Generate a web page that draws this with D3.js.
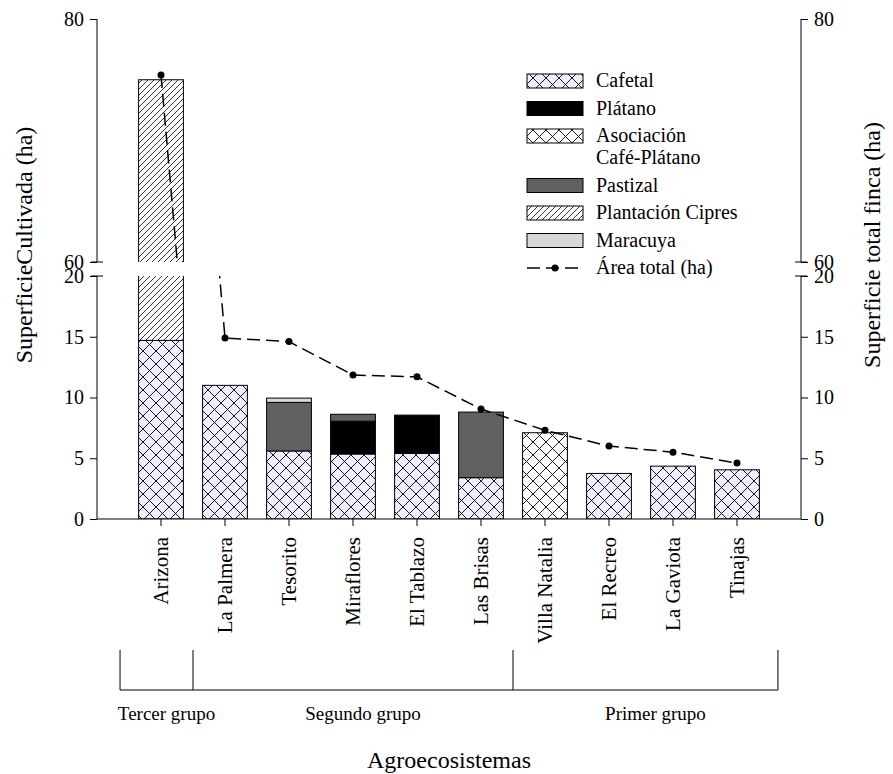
<!DOCTYPE html>
<html>
<head>
<meta charset="utf-8">
<script src="https://cdn.jsdelivr.net/npm/d3@7"></script>
<style>
  body { margin: 0; background: white; }
  text { font-family: "Liberation Serif", "Times New Roman", serif; fill: black; }
</style>
</head>
<body>
<div id="container"></div>
<script>
// data
var categories = ["Arizona", "La Palmera", "Tesorito", "Miraflores", "El Tablazo",
                  "Las Brisas", "Villa Natalia", "El Recreo", "La Gaviota", "Tinajas"];
var cafetal    = [14.7, 11.0, 5.6, 5.35, 5.4, 3.4, 0, 3.75, 4.35, 4.05];
var asociacion = [0, 0, 0, 0, 0, 0, 7.1, 0, 0, 0];
var platano    = [0, 0, 0, 2.7, 3.15, 0, 0, 0, 0, 0];
var pastizal   = [0, 0, 4.0, 0.57, 0, 5.4, 0, 0, 0, 0];
var cipres     = [60.3, 0, 0, 0, 0, 0, 0, 0, 0, 0];
var maracuya   = [0, 0, 0.35, 0, 0, 0, 0, 0, 0, 0];
var areaTotal  = [75.4, 14.9, 14.6, 11.85, 11.7, 9.05, 7.3, 6.0, 5.5, 4.6];

var seriesKeys  = ["cafetal", "asociacion", "platano", "pastizal", "cipres", "maracuya"];
var legendNames = ["Cafetal", "Plátano", "Asociación\nCafé-Plátano", "Pastizal", "Plantación Cipres", "Maracuya"];
var legendKeys  = ["cafetal", "platano", "asociacion", "pastizal", "cipres", "maracuya"];
var lowTicks  = [0, 5, 10, 15, 20];
var highTicks = [60, 80];
var groups = [
  {name: "Tercer grupo",  from: 0, to: 0},
  {name: "Segundo grupo", from: 1, to: 5},
  {name: "Primer grupo",  from: 6, to: 9}
];

var width = 893, height = 774;
var left = 97, right = 801;

var svg = d3.select("#container").append("svg")
    .attr("width", width).attr("height", height);

var defs = svg.append("defs");

function crossPattern(id, bg, s) {
  var p = defs.append("pattern").attr("id", id)
      .attr("patternUnits", "userSpaceOnUse")
      .attr("width", s).attr("height", s);
  p.append("rect").attr("width", s).attr("height", s).attr("fill", bg);
  p.append("path").attr("d", "M0,0L" + s + "," + s + "M0," + s + "L" + s + ",0")
   .attr("stroke", "black").attr("stroke-width", 0.9).attr("fill", "none");
}
crossPattern("pCafetal", "#eeeeff", 13);
crossPattern("pAsoc", "white", 13);

var hp = defs.append("pattern").attr("id", "pCipres")
    .attr("patternUnits", "userSpaceOnUse")
    .attr("width", 6).attr("height", 6);
hp.append("rect").attr("width", 6).attr("height", 6).attr("fill", "white");
hp.append("path").attr("d", "M-1,7L7,-1M-4,4L4,-4M2,10L10,2")
  .attr("stroke", "black").attr("stroke-width", 0.8);

var fills = {
  cafetal: "url(#pCafetal)",
  asociacion: "url(#pAsoc)",
  platano: "black",
  pastizal: "#606060",
  cipres: "url(#pCipres)",
  maracuya: "#d8d8d8"
};

var x = d3.scalePoint().domain(categories).range([left, right]).padding(1);
var step = x.step();
var barW = step * 0.7;

var yLow  = d3.scaleLinear().domain([0, 20]).range([519, 276]);
var yHigh = d3.scaleLinear().domain([60, 80]).range([262, 19]);

var table = categories.map(function(c, i) {
  return {name: c, cafetal: cafetal[i], asociacion: asociacion[i], platano: platano[i],
          pastizal: pastizal[i], cipres: cipres[i], maracuya: maracuya[i], total: areaTotal[i]};
});
var stacked = d3.stack().keys(seriesKeys)(table);

var panels = [
  {id: "clipLow", y: yLow},
  {id: "clipHigh", y: yHigh}
];

panels.forEach(function(p) {
  var r = p.y.range();
  defs.append("clipPath").attr("id", p.id).append("rect")
      .attr("x", left).attr("y", r[1]).attr("width", right - left).attr("height", r[0] - r[1]);

  var g = svg.append("g").attr("clip-path", "url(#" + p.id + ")");

  stacked.forEach(function(layer) {
    g.selectAll(null)
      .data(layer.filter(function(d) { return d[1] - d[0] > 0; }))
      .enter().append("rect")
      .attr("x", function(d) { return x(d.data.name) - barW / 2; })
      .attr("width", barW)
      .attr("y", function(d) { return p.y(d[1]); })
      .attr("height", function(d) { return p.y(d[0]) - p.y(d[1]); })
      .attr("fill", fills[layer.key])
      .attr("stroke", "black")
      .attr("stroke-width", 1);
  });

  var line = d3.line()
      .x(function(d) { return x(d.name); })
      .y(function(d) { return p.y(d.total); });

  g.append("path").datum(table)
    .attr("d", line)
    .attr("fill", "none")
    .attr("stroke", "black")
    .attr("stroke-width", 1.5)
    .attr("stroke-dasharray", "13,6");

  g.selectAll(null).data(table).enter().append("circle")
    .attr("cx", function(d) { return x(d.name); })
    .attr("cy", function(d) { return p.y(d.total); })
    .attr("r", 3.5)
    .attr("fill", "black");
});

// axes
function yAxes(scale, ticks) {
  svg.append("g").attr("transform", "translate(" + left + ",0)")
    .call(d3.axisLeft(scale).tickValues(ticks).tickSize(7).tickPadding(6));
  svg.append("g").attr("transform", "translate(" + right + ",0)")
    .call(d3.axisRight(scale).tickValues(ticks).tickSize(7).tickPadding(6));
}
yAxes(yLow, lowTicks);
yAxes(yHigh, highTicks);

svg.selectAll(".domain").remove();
svg.selectAll(".tick text").style("font-size", "20px")
   .style("font-family", "'Liberation Serif', serif");

// axis lines and break marks
[left, right].forEach(function(ax) {
  [yLow, yHigh].forEach(function(s) {
    var r = s.range();
    svg.append("line").attr("x1", ax).attr("x2", ax).attr("y1", r[0]).attr("y2", r[1])
       .attr("stroke", "black");
  });
  [yHigh(60), yLow(20)].forEach(function(yy) {
    svg.append("line").attr("x1", ax - 6).attr("x2", ax + 6).attr("y1", yy).attr("y2", yy)
       .attr("stroke", "black");
  });
});

// x axis
var xg = svg.append("g").attr("transform", "translate(0," + yLow(0) + ")");
xg.append("line").attr("x1", left).attr("x2", right).attr("stroke", "black");
xg.selectAll(null).data(categories).enter().append("line")
  .attr("x1", function(d) { return x(d); }).attr("x2", function(d) { return x(d); })
  .attr("y1", 0).attr("y2", 7).attr("stroke", "black");
xg.selectAll(null).data(categories).enter().append("text")
  .attr("transform", function(d) { return "translate(" + (x(d) + 7) + ",18) rotate(-90)"; })
  .attr("text-anchor", "end")
  .style("font-size", "21px")
  .text(function(d) { return d; });

// group brackets
var bTop = 650, bBot = 690, off = step * 0.64;
var bounds = [x(categories[0]) - off];
groups.forEach(function(gp, i) {
  var x1 = (i < groups.length - 1) ? (x(categories[gp.to]) + x(categories[gp.to + 1])) / 2
                                   : x(categories[gp.to]) + off;
  bounds.push(x1);
});
var bg = svg.append("g");
bg.append("line").attr("x1", bounds[0]).attr("x2", bounds[bounds.length - 1])
  .attr("y1", bBot).attr("y2", bBot).attr("stroke", "black");
bg.selectAll(null).data(bounds).enter().append("line")
  .attr("x1", function(d) { return d; }).attr("x2", function(d) { return d; })
  .attr("y1", bTop).attr("y2", bBot).attr("stroke", "black");
bg.selectAll(null).data(groups).enter().append("text")
  .attr("x", function(d, i) { return (bounds[i] + bounds[i + 1]) / 2 + 10; })
  .attr("y", 720)
  .attr("text-anchor", "middle")
  .style("font-size", "19px")
  .text(function(d) { return d.name; });

// titles
svg.append("text").attr("x", 449).attr("y", 768).attr("text-anchor", "middle")
  .style("font-size", "24px").text("Agroecosistemas");
svg.append("text").attr("transform", "translate(32,245) rotate(-90)").attr("text-anchor", "middle")
  .style("font-size", "24px").text("SuperficieCultivada (ha)");
svg.append("text").attr("transform", "translate(880,245) rotate(-90)").attr("text-anchor", "middle")
  .style("font-size", "24px").text("Superficie total finca (ha)");

// legend
var lg = svg.append("g");
var rowY = 81;
legendKeys.forEach(function(k, i) {
  var lines = legendNames[i].split("\n");
  lg.append("rect").attr("x", 527).attr("y", rowY - 7).attr("width", 56).attr("height", 14)
    .attr("fill", fills[k]).attr("stroke", "black").attr("stroke-width", 1);
  lines.forEach(function(t, j) {
    lg.append("text").attr("x", 596).attr("y", rowY + 6 + j * 22)
      .style("font-size", "20px").text(t);
  });
  rowY += 27.5 + (lines.length - 1) * 22;
});
lg.append("line").attr("x1", 527).attr("x2", 583).attr("y1", rowY).attr("y2", rowY)
  .attr("stroke", "black").attr("stroke-width", 1.5).attr("stroke-dasharray", "13,6");
lg.append("circle").attr("cx", 555).attr("cy", rowY).attr("r", 3.5).attr("fill", "black");
lg.append("text").attr("x", 596).attr("y", rowY + 6).style("font-size", "20px").text("Área total (ha)");
</script>
</body>
</html>
